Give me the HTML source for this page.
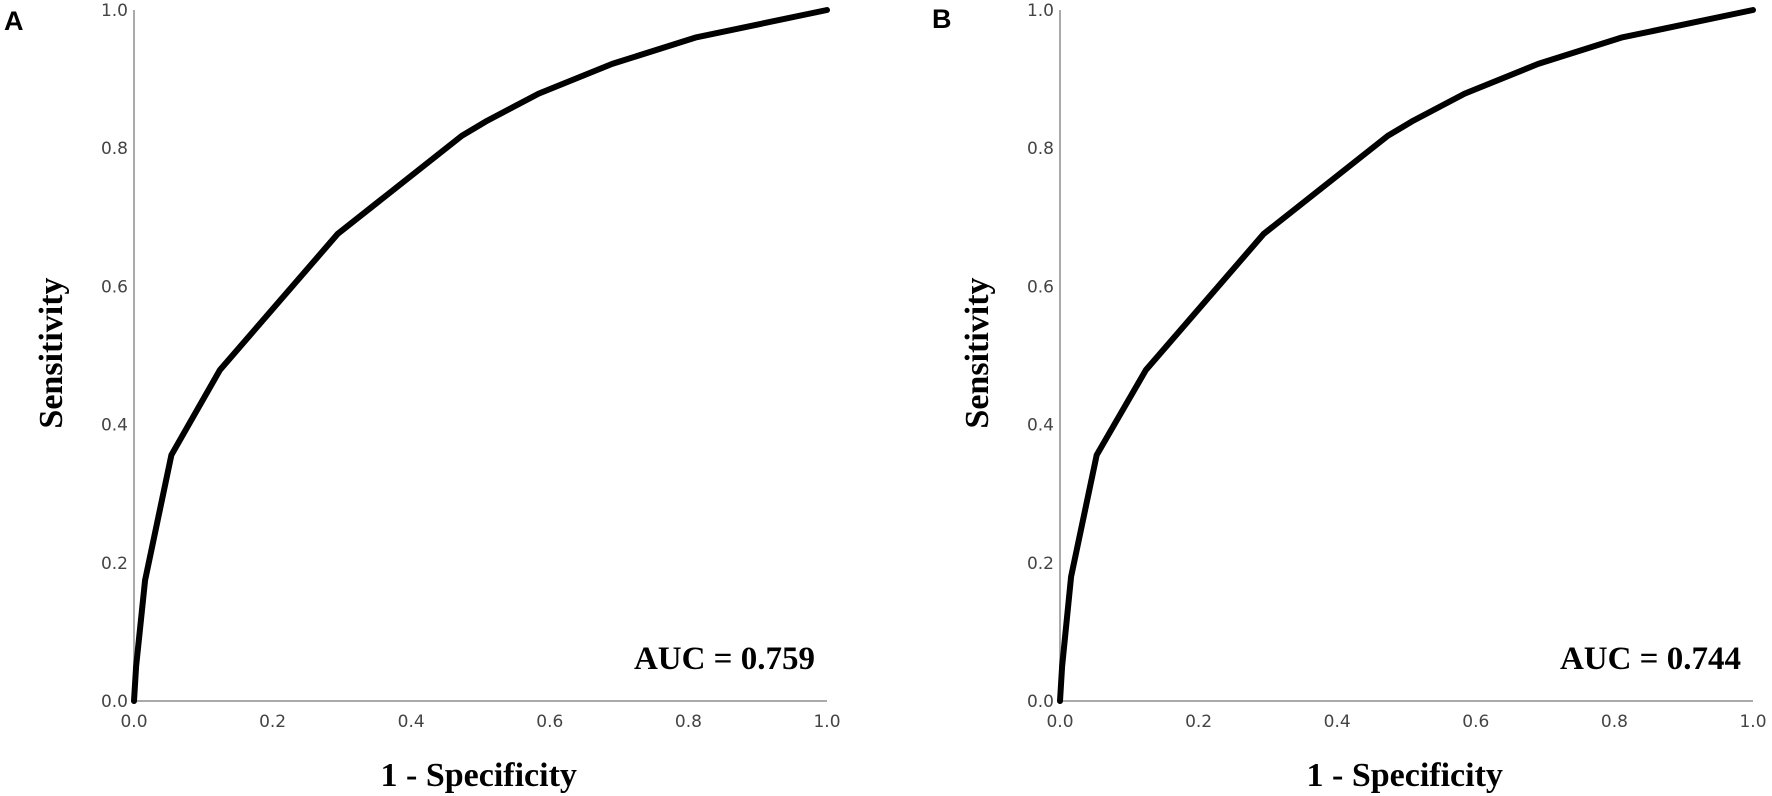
<!DOCTYPE html>
<html><head><meta charset="utf-8"><style>
html,body{margin:0;padding:0;background:#fff;}
svg{display:block;}
.tick{font-family:"DejaVu Sans","Liberation Sans",sans-serif;font-size:17px;fill:#444;}
.title{font-family:"Liberation Serif",serif;font-weight:bold;font-size:34px;fill:#000;}
.auc{font-family:"Liberation Serif",serif;font-weight:bold;font-size:33px;fill:#000;}
.panel{font-family:"Liberation Sans",sans-serif;font-weight:bold;font-size:27px;fill:#000;}
</style></head><body>
<svg id="chart" width="1772" height="796" viewBox="0 0 1772 796"></svg>
<script>
const fprA = [0, 0.003, 0.016, 0.054, 0.124, 0.294, 0.473, 0.51, 0.584, 0.69, 0.81, 1.0];
const tprA = [0, 0.05, 0.175, 0.356, 0.479, 0.676, 0.818, 0.84, 0.879, 0.922, 0.96, 1.0];
const fprB = [0, 0.003, 0.016, 0.053, 0.124, 0.294, 0.473, 0.51, 0.584, 0.69, 0.81, 1.0];
const tprB = [0, 0.05, 0.18, 0.356, 0.479, 0.676, 0.818, 0.84, 0.879, 0.922, 0.96, 1.0];
const tickLabels = ["0.0","0.2","0.4","0.6","0.8","1.0"];
const tickValues = [0,0.2,0.4,0.6,0.8,1.0];
const aucLabels = ["AUC = 0.759","AUC = 0.744"];
const panelLabels = ["A","B"];

const NS="http://www.w3.org/2000/svg";
const svg=document.getElementById('chart');
function mk(tag,attrs,parent){const e=document.createElementNS(NS,tag);for(const k in attrs)e.setAttribute(k,attrs[k]);(parent||svg).appendChild(e);return e;}

function panel(i,x0,fpr,tpr){
  const g=mk('g',{});
  
  
  const W=693,y0=701,H=691;
  const sx=v=>x0+v*W, sy=v=>y0-v*H;
  const pl=mk('text',{x:x0-130+(i?2:0),y:i?28:30,class:'panel'},g);pl.textContent=panelLabels[i];
  
  
  const ya=mk('line',{x1:x0,y1:sy(1),x2:x0,y2:y0,stroke:'#aaa','stroke-width':2},g);
  
  
  const xa=mk('line',{x1:x0,y1:y0,x2:sx(1),y2:y0,stroke:'#aaa','stroke-width':2},g);
  
  
  tickValues.forEach((v,k)=>{
    const t=mk('text',{x:x0-6,y:sy(v)+6,'text-anchor':'end',class:'tick'},g);t.textContent=tickLabels[k];
    
    
    const u=mk('text',{x:sx(v),y:y0+26,'text-anchor':'middle',class:'tick'},g);u.textContent=tickLabels[k];
    
    
  });
  const yt=mk('text',{x:0,y:0,class:'title','text-anchor':'middle',transform:`translate(${x0-72},353) rotate(-90)`},g);yt.textContent='Sensitivity';
  
  
  const xt=mk('text',{x:sx(0.5)-100,y:786,class:'title'},g);xt.textContent='1 - Specificity';
  
  
  const at=mk('text',{x:sx(1)-12,y:669,class:'auc','text-anchor':'end'},g);at.textContent=aucLabels[i];
  
  
  const pts=fpr.map((f,k)=>sx(f).toFixed(1)+','+sy(tpr[k]).toFixed(1)).join(' ');
  const line=mk('polyline',{points:pts,fill:'none',stroke:'#000','stroke-width':6,'stroke-linejoin':'round','stroke-linecap':'round'},g);
  
  
}
panel(0,134,fprA,tprA);
panel(1,1060,fprB,tprB);
</script>
</body></html>
